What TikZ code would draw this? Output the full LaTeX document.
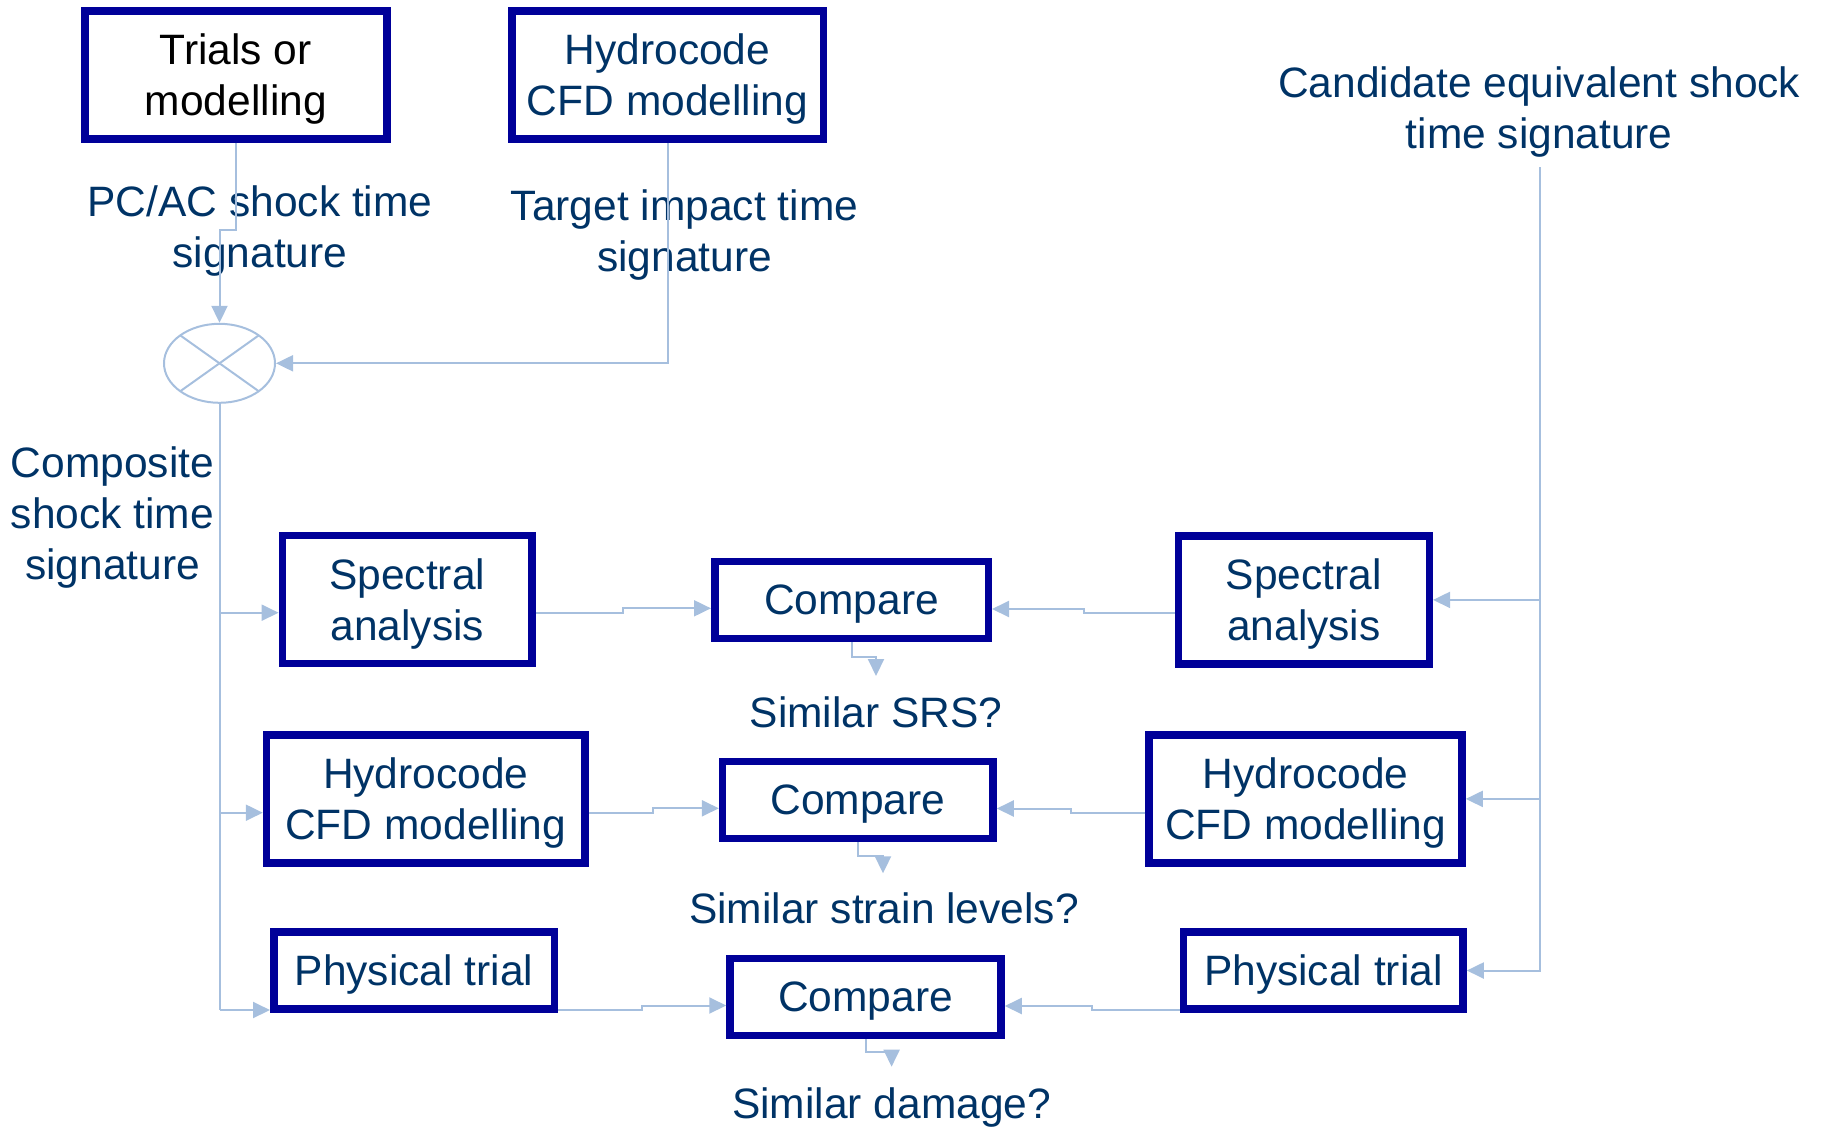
\documentclass[tikz,border=0pt]{standalone}
\usepackage{fontspec}
\setmainfont{Liberation Sans}
\usetikzlibrary{arrows.meta,shapes.geometric,calc}
\definecolor{boxblue}{RGB}{0,0,153}
\definecolor{txtblue}{RGB}{0,51,102}
\definecolor{connblue}{RGB}{166,191,222}
\newcommand{\twolines}[2]{\vbox{\baselineskip=51pt\halign{\hfil##\hfil\cr#1\cr#2\cr}}}
\begin{document}
\begin{tikzpicture}[x=1pt,y=-1pt,
  every node/.style={font=\fontsize{42.5}{51}\selectfont, text=txtblue, inner sep=0pt},
  blk/.style={draw=boxblue, line width=7.5pt, minimum height=128pt, text depth=0pt},
  blkone/.style={draw=boxblue, line width=7.5pt, minimum height=77pt, text depth=0pt},
  lbl/.style={align=center, anchor=north},
  conn/.style={draw=connblue, line width=2pt},
  arr/.style={conn, -{Triangle[length=17pt,width=16pt]}},
]
\useasboundingbox (0,0) rectangle (1825,1130);

% boxes
\node[blk, text=black, minimum width=302pt] (trials) at (235.8,75) {\twolines{Trials or}{modelling}};
\node[blk, minimum width=311.5pt] (hydT) at (667.5,75) {\twolines{Hydrocode}{CFD modelling}};
\node[draw=connblue, line width=2pt, ellipse, minimum width=111pt, minimum height=79pt] (sum) at (219.5,363.3) {};
\draw[conn] ($(sum.center)+(-39.2,-27.9)$) -- ($(sum.center)+(39.2,27.9)$);
\draw[conn] ($(sum.center)+(-39.2,27.9)$) -- ($(sum.center)+(39.2,-27.9)$);

\node[blk, minimum width=249.7pt] (specL) at (407.2,599.5) {\twolines{Spectral}{analysis}};
\node[blkone, minimum width=273.5pt] (cmp1) at (851.5,599.9) {Compare};
\node[blk, minimum width=250.8pt] (specR) at (1303.9,599.9) {\twolines{Spectral}{analysis}};
\node[blk, minimum width=318.5pt] (hydL) at (425.8,798.9) {\twolines{Hydrocode}{CFD modelling}};
\node[blkone, minimum width=270.4pt] (cmp2) at (857.8,800) {Compare};
\node[blk, minimum width=312.8pt] (hydR) at (1305.6,798.9) {\twolines{Hydrocode}{CFD modelling}};
\node[blkone, minimum width=280.5pt] (physL) at (414,970.5) {Physical trial};
\node[blkone, minimum width=271pt] (cmp3) at (865.5,997) {Compare};
\node[blkone, minimum width=279.5pt] (physR) at (1323.3,970.5) {Physical trial};

% labels
\node[lbl] (lpc) at (260,185.7) {PC/AC shock time\\signature};
\node[lbl] (ltg) at (684.5,189) {Target impact time\\signature};
\node[lbl] (lcand) at (1539.2,66.3) {Candidate equivalent shock\\time signature};
\node[lbl] (lcomp) at (112.5,446) {Composite\\shock time\\signature};
\node[lbl] (lsrs) at (876,696.3) {Similar SRS?};
\node[lbl] (lstr) at (884,892.3) {Similar strain levels?};
\node[lbl] (ldam) at (891.6,1087) {Similar damage?};

% top connectors
\coordinate (j1) at (219.5,230);
\draw[arr] (trials.south) |- (j1) -- (sum.north);
\draw[arr] (hydT.south) |- (sum.east);

% left trunk
\coordinate (b1) at (219.5,612.7);
\coordinate (b2) at (219.5,812.7);
\coordinate (b3) at (219.5,1010);
\draw[conn] (sum.south) -- (b3);
\draw[arr] (b1) -- (b1 -| specL.west);
\draw[arr] (b2) -- (b2 -| hydL.west);
\draw[arr] (b3) -- (b3 -| physL.west);

% left to compare
\coordinate (l1) at (623,612.7); \coordinate (l1b) at (623,608.3);
\coordinate (l2) at (653,812.7); \coordinate (l2b) at (653,808.3);
\coordinate (l3) at (642,1010); \coordinate (l3b) at (642,1005.5);
\draw[arr] (l1 -| specL.east) -- (l1) -- (l1b) -- (l1b -| cmp1.west);
\draw[arr] (l2 -| hydL.east) -- (l2) -- (l2b) -- (l2b -| cmp2.west);
\draw[arr] (l3 -| physL.east) -- (l3) -- (l3b) -- (l3b -| cmp3.west);

% right to compare
\coordinate (r1) at (1083.5,613); \coordinate (r1b) at (1083.5,609);
\coordinate (r2) at (1071,813); \coordinate (r2b) at (1071,808.5);
\coordinate (r3) at (1092,1010.3); \coordinate (r3b) at (1092,1006);
\draw[arr] (r1 -| specR.west) -- (r1) -- (r1b) -- (r1b -| cmp1.east);
\draw[arr] (r2 -| hydR.west) -- (r2) -- (r2b) -- (r2b -| cmp2.east);
\draw[arr] (r3 -| physR.west) -- (r3) -- (r3b) -- (r3b -| cmp3.east);

% right trunk
\coordinate (rtop) at (1539.6,167);
\draw[arr] (rtop) |- (physR.east);
\draw[arr] (rtop |- specR.east) -- (specR.east);
\draw[arr] (rtop |- hydR.east) -- (hydR.east);

% outputs
\coordinate (d1) at (876,676);
\coordinate (d2) at (883,873.3);
\coordinate (d3) at (891.6,1066.7);
\draw[arr] (cmp1.south) -- ++(0,15) -| (d1);
\draw[arr] (cmp2.south) -- ++(0,13.5) -| (d2);
\draw[arr] (cmp3.south) -- ++(0,12.7) -| (d3);
\end{tikzpicture}
\end{document}
